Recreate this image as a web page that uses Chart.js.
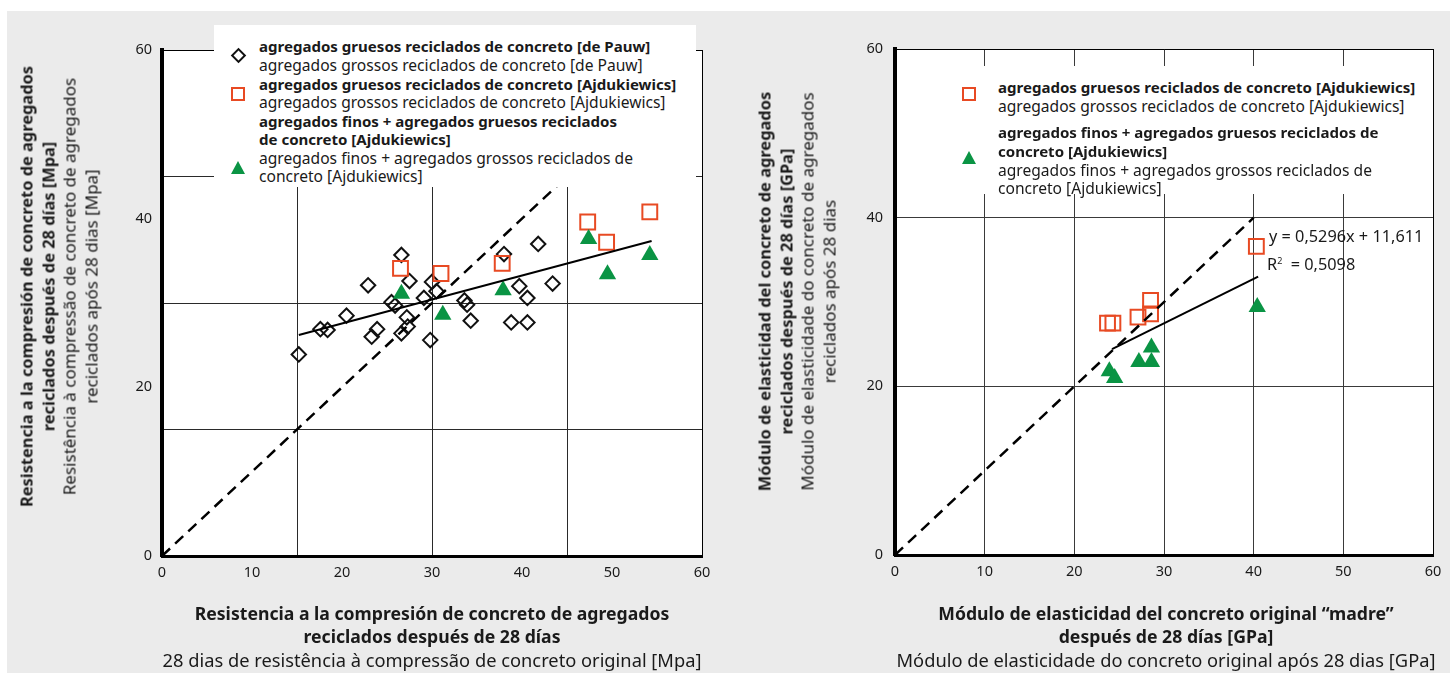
<!DOCTYPE html>
<html lang="es">
<head>
<meta charset="UTF-8">
<title>Concreto reciclado: resistencia y módulo de elasticidad</title>
<script src="https://cdn.jsdelivr.net/npm/chart.js"></script>
<style>
body { margin:0; width:1456px; height:677px; background:#fff; position:relative; overflow:hidden;
       font-family: "Noto Sans", Roboto, sans-serif; color:#1a1a1a; }
#panel { position:absolute; left:7px; top:11px; width:1443px; height:662px; background:#ebebeb; }
.chartbox { position:absolute; top:0; width:728px; height:677px; }
.xtitle { position:absolute; top:602px; width:680px; text-align:center; font-size:18.3px; line-height:23px; white-space:nowrap; }
.ytitle { position:absolute; width:560px; height:87px; text-align:center; font-size:17px; line-height:21.7px;
          transform:rotate(-90deg); white-space:nowrap; }
.b { font-weight:700; font-size:0.965em; }
.legend { position:absolute; background:#fff; font-size:15.6px; line-height:18.57px; white-space:nowrap; }
.legend .txt { position:absolute; }
.mk { position:absolute; }
.diamond { width:7px; height:7px; border:2px solid #111; transform:rotate(45deg); }
.square { width:10px; height:10px; border:2px solid #e84a23; }
.tri { width:0; height:0; border-left:7.5px solid transparent; border-right:7.5px solid transparent; border-bottom:13px solid #0a9444; }
.eq { position:absolute; font-size:16.3px; line-height:18px; white-space:nowrap; }
</style>
</head>
<body>
<div id="panel"></div>

<div class="chartbox" style="left:0"><canvas id="chartLeft" width="728" height="677"></canvas></div>
<div class="chartbox" style="left:728px"><canvas id="chartRight" width="728" height="677"></canvas></div>

<!-- left chart texts -->
<div class="ytitle" style="left:-221px; top:243px">
  <div class="b">Resistencia a la compresión de concreto de agregados</div>
  <div class="b">reciclados después de 28 días [Mpa]</div>
  <div>Resistência à compressão de concreto de agregados</div>
  <div>reciclados após 28 dias [Mpa]</div>
</div>
<div class="xtitle" style="left:92px">
  <div class="b">Resistencia a la compresión de concreto de agregados</div>
  <div class="b">reciclados después de 28 días</div>
  <div>28 dias de resistência à compressão de concreto original [Mpa]</div>
</div>
<div class="legend" style="left:214px; top:25px; width:482px; height:162px">
  <div class="mk diamond" style="left:19px; top:25px"></div>
  <div class="mk square" style="left:17px; top:62px"></div>
  <div class="mk tri" style="left:17px; top:136px"></div>
  <div class="txt" style="left:45px; top:12.4px">
    <span class="b">agregados gruesos reciclados de concreto [de Pauw]</span><br>
    agregados grossos reciclados de concreto [de Pauw]<br>
    <span class="b">agregados gruesos reciclados de concreto [Ajdukiewics]</span><br>
    agregados grossos reciclados de concreto [Ajdukiewics]<br>
    <span class="b">agregados finos + agregados gruesos reciclados</span><br>
    <span class="b">de concreto [Ajdukiewics]</span><br>
    agregados finos + agregados grossos reciclados de<br>
    concreto [Ajdukiewics]
  </div>
</div>

<!-- right chart texts -->
<div class="ytitle" style="left:517px; top:248px">
  <div class="b">Módulo de elasticidad del concreto de agregados</div>
  <div class="b">reciclados después de 28 días [GPa]</div>
  <div>Módulo de elasticidade do concreto de agregados</div>
  <div>reciclados após 28 dias</div>
</div>
<div class="xtitle" style="left:826px">
  <div class="b">Módulo de elasticidad del concreto original “madre”</div>
  <div class="b">después de 28 días [GPa]</div>
  <div>Módulo de elasticidade do concreto original após 28 dias [GPa]</div>
</div>
<div class="legend" style="left:955px; top:66px; width:472px; height:128px">
  <div class="mk square" style="left:7px; top:21px"></div>
  <div class="mk tri" style="left:7px; top:85px"></div>
  <div class="txt" style="left:43px; top:12px">
    <span class="b">agregados gruesos reciclados de concreto [Ajdukiewics]</span><br>
    agregados grossos reciclados de concreto [Ajdukiewics]
  </div>
  <div class="txt" style="left:43px; top:57.4px">
    <span class="b">agregados finos + agregados gruesos reciclados de</span><br>
    <span class="b">concreto [Ajdukiewics]</span><br>
    agregados finos + agregados grossos reciclados de<br>
    concreto [Ajdukiewics]
  </div>
</div>
<div class="eq" style="left:1269px; top:227px">y = 0,5296x + 11,611</div>
<div class="eq" style="left:1267px; top:252px">R<sup style="font-size:9px">2</sup>&nbsp; = 0,5098</div>

<script>
// ---- left chart: compressive strength [MPa]
const pauwX = [15.2, 17.6, 18.4, 20.5, 22.9, 23.9, 23.3, 26.6, 27.5, 25.5, 25.9, 27.2, 27.3, 26.6,
               29.1, 30.0, 30.5, 29.8, 33.6, 33.9, 34.3, 38.0, 41.8, 39.7, 40.6, 43.4, 38.8, 40.6];
const pauwY = [23.9, 26.9, 26.8, 28.5, 32.1, 26.9, 26.0, 35.7, 32.6, 30.1, 29.7, 28.3, 27.2, 26.4,
               30.6, 32.5, 31.4, 25.6, 30.3, 29.8, 27.9, 35.8, 37.0, 32.0, 30.6, 32.3, 27.7, 27.7];
const coarseX1 = [26.5, 31.0, 37.8, 47.3, 49.4, 54.2];
const coarseY1 = [34.1, 33.5, 34.7, 39.6, 37.2, 40.8];
const fineX1 = [26.6, 31.2, 37.9, 47.4, 49.5, 54.2];
const fineY1 = [31.1, 28.6, 31.5, 37.6, 33.4, 35.7];
const trendX1 = [15.2, 54.4];
const trendY1 = [26.2, 37.35];
const diagX1 = [0, 50];
const diagY1 = [0, 50];

// ---- right chart: modulus of elasticity [GPa]
const coarseX2 = [40.3, 28.5, 28.5, 27.1, 24.3, 23.7];
const coarseY2 = [36.6, 30.2, 28.6, 28.2, 27.5, 27.5];
const fineX2 = [40.4, 28.6, 28.6, 27.2, 23.9, 24.5];
const fineY2 = [29.4, 24.6, 22.9, 22.9, 21.8, 21.0];
const trendX2 = [24.2, 40.5];
const trendY2 = [24.4, 33.0];
const diagX2 = [0, 40];
const diagY2 = [0, 40];

const xTicks = [0, 10, 20, 30, 40, 50, 60];
const yTicks = [0, 20, 40, 60];

const RED = '#e84a23';
const GREEN = '#0a9444';
const INK = '#1a1a1a';

Chart.defaults.font.family = '"Noto Sans", Roboto, sans-serif';
Chart.defaults.color = INK;

// white plot area on the grey panel
const plotBackground = {
    id: 'plotBackground',
    beforeDraw(chart) {
        const { ctx, chartArea: a } = chart;
        ctx.save();
        ctx.fillStyle = '#fff';
        ctx.fillRect(a.left, a.top, a.right - a.left, a.bottom - a.top);
        ctx.restore();
    }
};

function pts(xs, ys) {
    return xs.map((x, i) => ({ x: x, y: ys[i] }));
}

function edgeless(color) {
    return ctx => (ctx.tick && (ctx.tick.value === 0 || ctx.tick.value === 60)) ? 'rgba(0,0,0,0)' : color;
}

function buildScales(gridStep, xGridStep, yPad) {
    const tickFont = { size: 14.5 };
    return {
        x: {
            type: 'linear', min: 0, max: 60,
            afterBuildTicks: s => { s.ticks = xTicks.map(v => ({ value: v })); },
            ticks: { padding: 8, font: tickFont, color: INK },
            grid: { display: xGridStep === 10, drawTicks: false, color: edgeless('#3a3a3a') },
            border: { color: '#000', width: 3 },
            afterFit: s => { s.height = 30; }
        },
        y: {
            type: 'linear', min: 0, max: 60,
            afterBuildTicks: s => { s.ticks = yTicks.map(v => ({ value: v })); },
            ticks: { padding: yPad, font: tickFont, color: INK },
            grid: { display: xGridStep === 10, drawTicks: false, color: edgeless('#3a3a3a') },
            border: { color: '#000', width: 4 },
            afterFit: s => { s.width = 40; }
        },
        x2: {
            axis: 'x', type: 'linear', position: 'top', min: 0, max: 60,
            ticks: { display: false, stepSize: gridStep },
            grid: { display: gridStep > 0, drawTicks: false, color: edgeless('#2a2a2a') },
            border: { color: '#000', width: 1 },
            afterFit: s => { s.height = 0; }
        },
        y2: {
            axis: 'y', type: 'linear', position: 'right', min: 0, max: 60,
            ticks: { display: false, stepSize: gridStep },
            grid: { display: gridStep > 0, drawTicks: false, color: edgeless('#2a2a2a') },
            border: { color: '#000', width: 1 },
            afterFit: s => { s.width = 0; }
        }
    };
}

function lineSet(xs, ys, dashed, order) {
    return {
        data: pts(xs, ys), showLine: true, pointRadius: 0, borderColor: '#000',
        borderWidth: dashed ? 2.5 : 2, borderDash: dashed ? [11, 7] : [], order: order, fill: false
    };
}

function markSet(xs, ys, style, order) {
    if (style === 'diamond') {
        return { data: pts(xs, ys), pointStyle: 'rectRot', pointRadius: 7.2,
                 borderColor: '#111', borderWidth: 2, backgroundColor: 'rgba(0,0,0,0)', order: order };
    }
    if (style === 'square') {
        return { data: pts(xs, ys), pointStyle: 'rect', pointRadius: 10.5,
                 borderColor: RED, borderWidth: 2, backgroundColor: 'rgba(0,0,0,0)', order: order };
    }
    return { data: pts(xs, ys), pointStyle: 'triangle', pointRadius: 10,
             borderColor: GREEN, borderWidth: 0, backgroundColor: GREEN, order: order };
}

const commonOptions = (padding, gridStep, xGridStep, yPad) => ({
    responsive: false,
    animation: false,
    layout: { padding: padding },
    plugins: { legend: { display: false }, tooltip: { enabled: false } },
    scales: buildScales(gridStep, xGridStep, yPad)
});

new Chart(document.getElementById('chartLeft'), {
    type: 'scatter',
    data: {
        datasets: [
            lineSet(trendX1, trendY1, false, 0),
            lineSet(diagX1, diagY1, true, 1),
            markSet(fineX1, fineY1, 'triangle', 2),
            markSet(coarseX1, coarseY1, 'square', 3),
            markSet(pauwX, pauwY, 'diamond', 4)
        ]
    },
    options: commonOptions({ left: 122, right: 26, top: 50, bottom: 91 }, 15, 0, 10),
    plugins: [plotBackground]
});

new Chart(document.getElementById('chartRight'), {
    type: 'scatter',
    data: {
        datasets: [
            lineSet(trendX2, trendY2, false, 0),
            lineSet(diagX2, diagY2, true, 1),
            markSet(fineX2, fineY2, 'triangle', 2),
            markSet(coarseX2, coarseY2, 'square', 3)
        ]
    },
    options: commonOptions({ left: 127, right: 23, top: 49, bottom: 92 }, 0, 10, 12),
    plugins: [plotBackground]
});
</script>
</body>
</html>
